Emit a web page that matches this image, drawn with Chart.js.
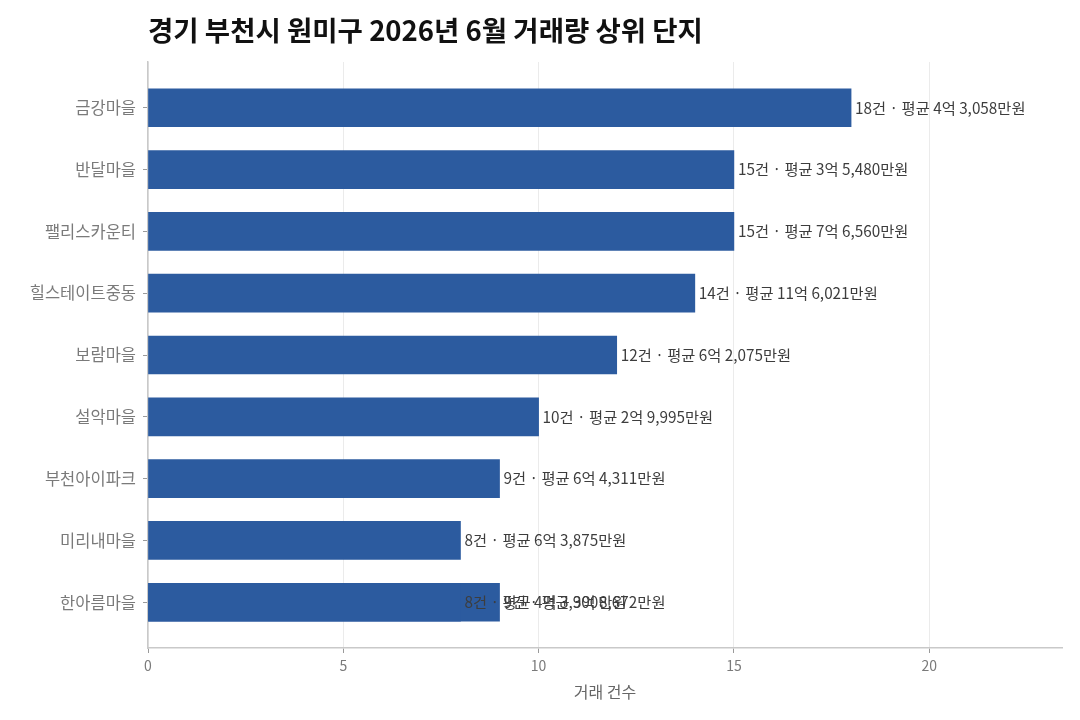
<!DOCTYPE html>
<html lang="ko">
<head>
    <meta charset="UTF-8">
    <title>경기 부천시 원미구 2026년 6월 거래량 상위 단지</title>
    <script src="https://cdn.jsdelivr.net/npm/chart.js"></script>
    <style>
        html, body {
            margin: 0;
            padding: 0;
            background: #ffffff;
        }
        #wrap {
            width: 1080px;
            height: 720px;
        }
    </style>
</head>
<body>
    <div id="wrap"><canvas id="myChart" width="1080" height="720"></canvas></div>

    <script>
        // 차트 데이터
        const chartTitle = '경기 부천시 원미구 2026년 6월 거래량 상위 단지';
        const categories = ['금강마을', '반달마을', '팰리스카운티', '힐스테이트중동', '보람마을', '설악마을', '부천아이파크', '미리내마을', '한아름마을'];
        const counts = [18, 15, 15, 14, 12, 10, 9, 8, 9];
        const priceLabels = [
            '18건 · 평균 4억 3,058만원',
            '15건 · 평균 3억 5,480만원',
            '15건 · 평균 7억 6,560만원',
            '14건 · 평균 11억 6,021만원',
            '12건 · 평균 6억 2,075만원',
            '10건 · 평균 2억 9,995만원',
            '9건 · 평균 6억 4,311만원',
            '8건 · 평균 6억 3,875만원',
            '9건 · 평균 3억 8,672만원'
        ];
        // 같은 이름(한아름마을)의 두 번째 단지
        const extraIndex = [8];
        const extraCounts = [8];
        const extraLabels = ['8건 · 평균 4억 3,900만원'];
        const xTicks = [0, 5, 10, 15, 20];
        const xMax = 23.4;
        const axisTitle = '거래 건수';

        const FONT = '"Noto Sans CJK KR", "Noto Sans", sans-serif';
        const barColor = '#2c5b9f';

        // 제목 (플롯 영역 왼쪽에 맞춤)
        const titlePlugin = {
            id: 'leftTitle',
            afterDraw(chart) {
                const ctx = chart.ctx;
                ctx.save();
                ctx.font = 'bold 27.5px ' + FONT;
                ctx.fillStyle = '#111111';
                ctx.textBaseline = 'middle';
                ctx.textAlign = 'left';
                ctx.fillText(chartTitle, chart.chartArea.left, 31);
                ctx.restore();
            }
        };

        // 막대 끝 라벨
        const barLabelPlugin = {
            id: 'barLabels',
            afterDatasetsDraw(chart) {
                const ctx = chart.ctx;
                ctx.save();
                ctx.font = '15.3px ' + FONT;
                ctx.fillStyle = '#3d3d3d';
                ctx.textBaseline = 'middle';
                ctx.textAlign = 'left';
                chart.data.datasets.forEach((ds, di) => {
                    const meta = chart.getDatasetMeta(di);
                    meta.data.forEach((bar, i) => {
                        const text = ds.valueLabels[i];
                        if (!text) return;
                        ctx.fillText(text, bar.x + 4, bar.y);
                    });
                });
                ctx.restore();
            }
        };

        const ctx = document.getElementById('myChart').getContext('2d');
        new Chart(ctx, {
            type: 'bar',
            data: {
                datasets: [{
                    label: '거래 건수',
                    data: extraCounts.map((v, i) => ({ x: v, y: extraIndex[i] })),
                    valueLabels: extraLabels,
                    backgroundColor: barColor,
                    barThickness: 38,
                    grouped: false
                }, {
                    label: '거래 건수',
                    data: counts.map((v, i) => ({ x: v, y: i })),
                    valueLabels: priceLabels,
                    backgroundColor: barColor,
                    barThickness: 38,
                    grouped: false
                }]
            },
            options: {
                indexAxis: 'y',
                responsive: false,
                animation: false,
                layout: {
                    padding: { top: 62, right: 18, left: 0, bottom: 18 }
                },
                plugins: {
                    legend: { display: false },
                    tooltip: { enabled: false }
                },
                scales: {
                    x: {
                        type: 'linear',
                        min: 0,
                        max: xMax,
                        afterBuildTicks(axis) {
                            axis.ticks = xTicks.map(v => ({ value: v }));
                        },
                        afterFit(axis) {
                            axis.height = 54;
                        },
                        grid: {
                            color: '#ebebeb',
                            tickColor: '#9a9a9a',
                            tickLength: 5
                        },
                        border: { display: true, color: '#c9c9c9', width: 1.5 },
                        ticks: {
                            color: '#7a7a7a',
                            font: { family: FONT, size: 14 },
                            padding: 4
                        },
                        title: {
                            display: true,
                            text: axisTitle,
                            color: '#666666',
                            font: { family: FONT, size: 16 },
                            padding: 0
                        }
                    },
                    y: {
                        type: 'linear',
                        reverse: true,
                        offset: false,
                        min: -0.74,
                        max: 8.74,
                        afterBuildTicks(axis) {
                            axis.ticks = categories.map((c, i) => ({ value: i }));
                        },
                        afterFit(axis) {
                            axis.width = 148;
                        },
                        grid: {
                            offset: false,
                            drawOnChartArea: false,
                            tickColor: '#9a9a9a',
                            tickLength: 5
                        },
                        border: { display: true, color: '#c9c9c9', width: 1.5 },
                        ticks: {
                            color: '#7a7a7a',
                            font: { family: FONT, size: 16.5 },
                            padding: 7,
                            callback: (v) => categories[v]
                        }
                    }
                }
            },
            plugins: [titlePlugin, barLabelPlugin]
        });
    </script>
</body>
</html>
